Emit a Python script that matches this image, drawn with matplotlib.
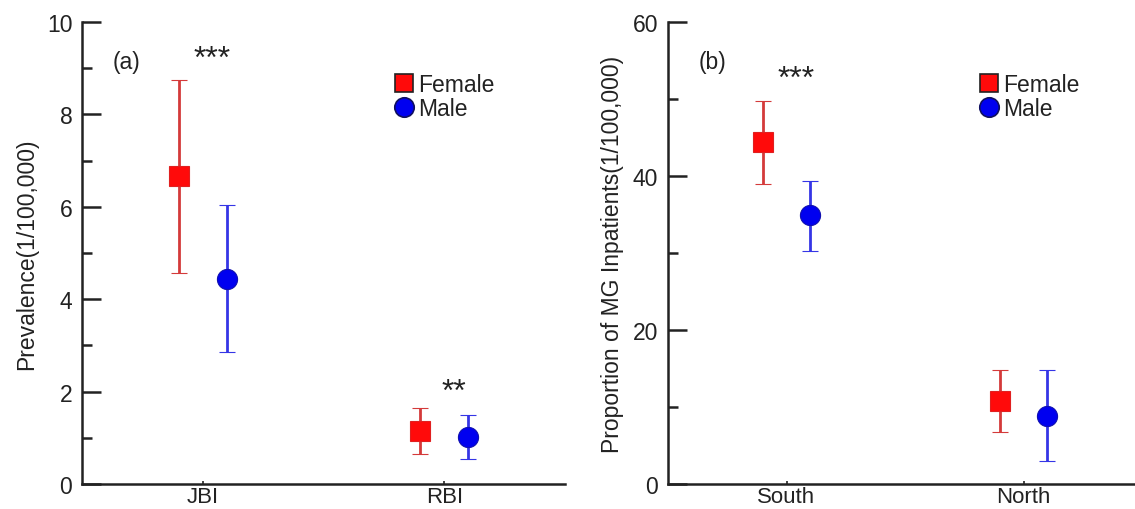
import matplotlib
matplotlib.use("Agg")
import matplotlib.pyplot as plt
from matplotlib.lines import Line2D
from matplotlib.ticker import MultipleLocator

plt.rcParams['font.family'] = ['Liberation Sans', 'DejaVu Sans']

# ---- data ----
cats_a = ["JBI", "RBI"]
female_a = [6.66, 1.15]
female_a_lo = [4.57, 0.66]
female_a_hi = [8.74, 1.64]
male_a = [4.43, 1.02]
male_a_lo = [2.85, 0.54]
male_a_hi = [6.03, 1.50]
sig_a = ["***", "**"]
sig_a_y = [9.2, 2.0]

cats_b = ["South", "North"]
female_b = [44.4, 10.8]
female_b_lo = [39.0, 6.8]
female_b_hi = [49.8, 14.8]
male_b = [35.0, 8.85]
male_b_lo = [30.3, 3.0]
male_b_hi = [39.4, 14.8]
sig_b = ["***"]
sig_b_y = [52.6]

series_labels = ["Female", "Male"]

W, H = 1135, 510
fig = plt.figure(figsize=(W / 100, H / 100), dpi=100)

ax_a = fig.add_axes([82 / W, 1 - 485 / H, 483 / W, 462 / H])
ax_b = fig.add_axes([668 / W, 1 - 485 / H, 474 / W, 462 / H])

TXT = '#222222'
RED_LINE = '#d43a3a'
RED_FILL = '#ff0a0a'
BLUE_LINE = '#3535e6'
BLUE_FILL = '#0000f0'


def draw(ax, cats, f, flo, fhi, m, mlo, mhi, ymax, major, minor, ylabel, tag,
         sig, sig_y, legx):
    x = list(range(len(cats)))
    off = 0.1
    xf = [v - off for v in x]
    xm = [v + off for v in x]
    ax.errorbar(xf, f, yerr=[[a - b for a, b in zip(f, flo)], [b - a for a, b in zip(f, fhi)]],
                fmt='s', ms=14, mfc=RED_FILL, mec='#e02020', mew=0.8,
                ecolor=RED_LINE, elinewidth=2.0, capsize=5.6, capthick=2.0, zorder=3)
    ax.errorbar(xm, m, yerr=[[a - b for a, b in zip(m, mlo)], [b - a for a, b in zip(m, mhi)]],
                fmt='o', ms=14.5, mfc=BLUE_FILL, mec='#1010b0', mew=0.8,
                ecolor=BLUE_LINE, elinewidth=2.0, capsize=5.6, capthick=2.0, zorder=3)
    ax.set_xlim(-0.5, 1.5)
    ax.set_ylim(0, ymax)
    ax.set_xticks(x)
    ax.set_xticklabels(cats)
    ax.yaxis.set_major_locator(MultipleLocator(major))
    ax.yaxis.set_minor_locator(MultipleLocator(minor))
    for s in ['top', 'right']:
        ax.spines[s].set_visible(False)
    for s in ['left', 'bottom']:
        ax.spines[s].set_linewidth(1.8)
        ax.spines[s].set_color(TXT)
    ax.tick_params(axis='y', which='major', direction='in', length=13.5, width=1.8,
                   labelsize=16.5, pad=7, colors=TXT)
    ax.tick_params(axis='y', which='minor', direction='in', length=7, width=1.8, colors=TXT)
    ax.tick_params(axis='x', which='major', direction='in', length=2.5, width=1.2,
                   labelsize=16, pad=1.5, colors=TXT)
    ax.set_ylabel(ylabel, fontsize=16.5, color=TXT, labelpad=6)
    ax.text(0.064, 0.915, tag, transform=ax.transAxes, fontsize=16.5, color=TXT,
            ha='left', va='center')
    for i, (s, yy) in enumerate(zip(sig, sig_y)):
        ax.text(x[i] + 0.04, yy, s, fontsize=23, color=TXT, ha='center', va='center')
    handles = [
        Line2D([], [], ls='none', marker='s', ms=13.5, mfc=RED_FILL, mec='#222222', mew=1.2),
        Line2D([], [], ls='none', marker='o', ms=14, mfc=BLUE_FILL, mec='#101060', mew=1.2),
    ]
    leg = ax.legend(handles, series_labels, loc='upper left', bbox_to_anchor=(legx, 0.89),
                    frameon=False, fontsize=16.5, handlelength=0.95, handletextpad=0.12,
                    labelspacing=0.05, borderpad=0, borderaxespad=0)
    for t in leg.get_texts():
        t.set_color(TXT)


draw(ax_a, cats_a, female_a, female_a_lo, female_a_hi, male_a, male_a_lo, male_a_hi,
     10, 2, 1, "Prevalence(1/100,000)", "(a)", sig_a, sig_a_y, 0.645)
draw(ax_b, cats_b, female_b, female_b_lo, female_b_hi, male_b, male_b_lo, male_b_hi,
     60, 20, 10, "Proportion of MG Inpatients(1/100,000)", "(b)", sig_b, sig_b_y, 0.655)

fig.savefig("out.png", dpi=100)
